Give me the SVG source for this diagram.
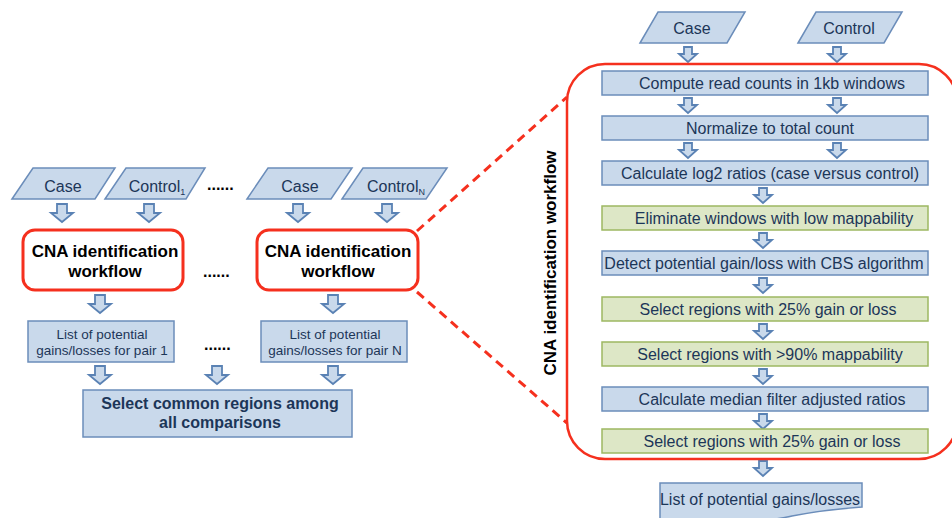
<svg xmlns="http://www.w3.org/2000/svg" width="952" height="518" viewBox="0 0 952 518">
<style>
  .bg{fill:#ffffff}
  .blue{fill:#c9d9eb;stroke:#6b8dba;stroke-width:1.5}
  .green{fill:#dde7c6;stroke:#9db862;stroke-width:1.5}
  .arr{fill:#c9d9eb;stroke:#5a82b4;stroke-width:1.8;stroke-linejoin:miter}
  .cna{fill:#ffffff;stroke:#f5301e;stroke-width:3}
  .red{fill:none;stroke:#f5301e;stroke-width:2.5}
  .dash{fill:none;stroke:#f5301e;stroke-width:3;stroke-dasharray:9 6}
  .t{font-family:"Liberation Sans",Arial,sans-serif;fill:#1c3658;text-anchor:middle}
  .t15{font-size:16px}
  .t16{font-size:16px}
  .t13{font-size:13.5px}
  .b{font-family:"Liberation Sans",Arial,sans-serif;font-weight:bold;text-anchor:middle}
  .k{fill:#000000}
  .sub{font-size:9px}
  .dots{font-family:"Liberation Sans",Arial,sans-serif;font-weight:bold;font-size:16px;fill:#000000}
</style>
<defs>
  <path id="a1" class="arr" d="M-5,0 H5 V9 H11 L0,18 L-11,9 H-5 Z"/>
  <path id="a2" class="arr" d="M-4,0 H4 V7 H9 L0,15 L-9,7 H-4 Z"/>
</defs>
<rect class="bg" x="0" y="0" width="952" height="518"/>

<!-- connectors -->
<g id="connectors">
  <line class="dash" x1="417" y1="231" x2="567" y2="97"/>
  <line class="dash" x1="417" y1="292" x2="567" y2="423"/>
  <use href="#a1" x="62" y="204"/>
  <use href="#a1" x="149" y="204"/>
  <use href="#a1" x="298" y="204"/>
  <use href="#a1" x="387" y="204"/>
  <use href="#a1" x="100" y="295"/>
  <use href="#a1" x="333" y="295"/>
  <use href="#a1" x="100" y="366"/>
  <use href="#a1" x="217" y="366"/>
  <use href="#a1" x="333" y="366"/>
  <use href="#a2" x="688" y="47"/>
  <use href="#a2" x="837" y="47"/>
  <use href="#a2" x="688" y="98"/>
  <use href="#a2" x="837" y="98"/>
  <use href="#a2" x="688" y="143"/>
  <use href="#a2" x="837" y="143"/>
  <use href="#a2" x="763" y="188"/>
  <use href="#a2" x="763" y="233"/>
  <use href="#a2" x="763" y="278"/>
  <use href="#a2" x="763" y="324"/>
  <use href="#a2" x="763" y="369"/>
  <use href="#a2" x="763" y="414"/>
  <use href="#a2" x="763" y="461"/>
</g>

<!-- left side -->
<g id="case1">
  <polygon class="blue" points="12,199 33,168 115,168 95,199"/>
  <text class="t t15" x="63" y="192">Case</text>
</g>
<g id="control1">
  <polygon class="blue" points="105,199 126,168 205,168 186,199"/>
  <text class="t t15" x="157" y="192">Control<tspan class="sub" dy="3">1</tspan></text>
</g>
<text class="dots" x="207" y="190">......</text>
<g id="caseN">
  <polygon class="blue" points="247,199 268,168 352,168 331,199"/>
  <text class="t t15" x="300" y="192">Case</text>
</g>
<g id="controlN">
  <polygon class="blue" points="342,199 363,168 447,168 426,199"/>
  <text class="t t15" x="396" y="192">Control<tspan class="sub" dy="3">N</tspan></text>
</g>

<g id="cna1">
  <rect class="cna" x="23" y="230" width="160" height="60" rx="12"/>
  <text class="b k" font-size="17" x="105" y="257">CNA identification</text>
  <text class="b k" font-size="17" x="105" y="277">workflow</text>
</g>
<text class="dots" x="203" y="277">......</text>
<g id="cnaN">
  <rect class="cna" x="257" y="230" width="161" height="60" rx="12"/>
  <text class="b k" font-size="17" x="338" y="257">CNA identification</text>
  <text class="b k" font-size="17" x="338" y="277">workflow</text>
</g>

<g id="list1">
  <rect class="blue" x="28" y="321" width="146" height="41"/>
  <text class="t t13" x="102" y="339">List of potential</text>
  <text class="t t13" x="102" y="355">gains/losses for pair 1</text>
</g>
<text class="dots" x="204" y="350">......</text>
<g id="listN">
  <rect class="blue" x="261" y="321" width="146" height="41"/>
  <text class="t t13" x="335" y="339">List of potential</text>
  <text class="t t13" x="335" y="355">gains/losses for pair N</text>
</g>

<g id="common">
  <rect class="blue" x="83" y="390" width="269" height="47"/>
  <text class="b" fill="#1c3658" font-size="16" x="220" y="409">Select common regions among</text>
  <text class="b" fill="#1c3658" font-size="16" x="220" y="428">all comparisons</text>
</g>

<!-- right panel -->
<g id="rcase">
  <polygon class="blue" points="640,43 658,12 745,12 727,43"/>
  <text class="t t16" x="692" y="34">Case</text>
</g>
<g id="rcontrol">
  <polygon class="blue" points="798,43 816,12 902,12 884,43"/>
  <text class="t t16" x="849" y="34">Control</text>
</g>

<g id="workflow">
  <rect class="red" x="567" y="64" width="390" height="395" rx="38"/>
  <text class="b k" font-size="17" transform="translate(556,263) rotate(-90)">CNA identification workflow</text>
</g>

<g id="s1"><rect class="blue" x="602" y="71" width="326" height="24"/><text class="t t16" x="772" y="89">Compute read counts in 1kb windows</text></g>
<g id="s2"><rect class="blue" x="602" y="116" width="326" height="24"/><text class="t t16" x="770" y="134">Normalize to total count</text></g>
<g id="s3"><rect class="blue" x="602" y="161" width="326" height="24"/><text class="t t16" x="770" y="179">Calculate log2 ratios (case versus control)</text></g>
<g id="s4"><rect class="green" x="602" y="206" width="326" height="24"/><text class="t t16" x="774" y="224">Eliminate windows with low mappability</text></g>
<g id="s5"><rect class="blue" x="602" y="251" width="326" height="24"/><text class="t t16" x="764" y="269">Detect potential gain/loss with CBS algorithm</text></g>
<g id="s6"><rect class="green" x="602" y="297" width="326" height="24"/><text class="t t16" x="768" y="315">Select regions with 25% gain or loss</text></g>
<g id="s7"><rect class="green" x="602" y="342" width="326" height="24"/><text class="t t16" x="770" y="360">Select regions with &gt;90% mappability</text></g>
<g id="s8"><rect class="blue" x="602" y="387" width="326" height="24"/><text class="t t16" x="772" y="405">Calculate median filter adjusted ratios</text></g>
<g id="s9"><rect class="green" x="602" y="429" width="326" height="24"/><text class="t t16" x="772" y="447">Select regions with 25% gain or loss</text></g>

<g id="output">
  <path class="blue" d="M660,483 H862 V507 C835,509 812,512 792,516 C760,523 705,526 660,520 Z"/>
  <text class="t t16" x="760" y="505">List of potential gains/losses</text>
</g>
</svg>
